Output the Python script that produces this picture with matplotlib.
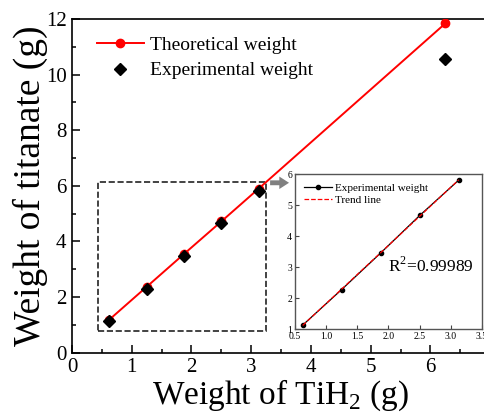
import numpy as np
import matplotlib
matplotlib.use("Agg")
import matplotlib.pyplot as plt
from matplotlib.patches import Rectangle

plt.rcParams['font.family'] = ['Liberation Serif', 'DejaVu Serif']
plt.rcParams['mathtext.fontset'] = 'custom'
plt.rcParams['mathtext.rm'] = 'Liberation Serif'

tih2 = [0.625, 1.25, 1.875, 2.5, 3.125, 6.25]
theoretical = [1.19, 2.37, 3.55, 4.72, 5.90, 11.84]
experimental = [1.13, 2.28, 3.46, 4.67, 5.81, 10.57]

inset_x = tih2[:5]
inset_y = experimental[:5]

fig = plt.figure(figsize=(4.85, 4.13), dpi=100)
ax = fig.add_axes([0.1485, 0.146, 0.862, 0.808])
ax.plot(tih2, theoretical, '-o', color='red', lw=1.4, ms=6, label='Theoretical weight', zorder=3)
ax.plot(tih2, experimental, 'D', color='black', ms=6, ls='none', label='Experimental weight', zorder=4)
ax.set_xlim(0, 7)
ax.set_ylim(0, 12)
ax.set_xticks(range(0, 7))
ax.set_xticks(np.arange(0.5, 7, 1.0), minor=True)
ax.set_yticks(range(0, 13, 2))
ax.set_yticks(range(1, 13, 2), minor=True)
ax.tick_params(which='both', direction='in', labelsize=15, width=1.1)
ax.tick_params(which='major', length=6)
ax.tick_params(which='minor', length=3)
ax.tick_params(axis='x', pad=4)
ax.tick_params(axis='y', pad=4)
for s in ax.spines.values():
    s.set_linewidth(1.2)
ax.set_xlabel('Weight of TiH$_2$ (g)', fontsize=24, labelpad=0)
ax.set_ylabel('Weight of titanate (g)', fontsize=27, labelpad=-2)
leg = ax.legend(loc='upper left', bbox_to_anchor=(0.018, 1.0), frameon=False, fontsize=14,
                handlelength=2.4, handletextpad=0.3, labelspacing=0.4, borderaxespad=0.5)

ax.add_patch(Rectangle((0.43, 0.78), 2.81, 5.37, fill=False, ls='--', lw=1.2, ec='#222222', zorder=2))
ax.annotate('', xy=(3.68, 6.11), xytext=(3.27, 6.11),
            arrowprops=dict(arrowstyle='simple,head_width=0.9,head_length=0.7,tail_width=0.35',
                            color='#808080', lw=0))

ins = fig.add_axes([0.608, 0.203, 0.386, 0.375])
coef = np.polyfit(inset_x, inset_y, 1)
xx = np.array([inset_x[0], inset_x[-1]])
ins.plot(inset_x, inset_y, '-o', color='black', lw=0.9, ms=3, label='Experimental weight')
ins.plot(xx, np.polyval(coef, xx), '--', color='red', lw=0.9, label='Trend line')
ins.set_xlim(0.5, 3.5)
ins.set_ylim(1, 6)
ins.set_xticks(np.arange(0.5, 3.6, 0.5))
ins.set_yticks(range(1, 7))
ins.tick_params(direction='in', labelsize=7, length=3, width=0.8, pad=2, colors='#444444', labelcolor='black')
for s in ins.spines.values():
    s.set_color('#555555')
    s.set_linewidth(1.0)
ins.legend(loc='upper left', frameon=False, fontsize=8, handlelength=2.5, handletextpad=0.3,
           labelspacing=0.2, borderaxespad=0.4)
ins.text(2.0, 3.05, 'R$^2$=0.99989', fontsize=12.5, va='center', ha='left')

fig.savefig('out.png', dpi=100)
